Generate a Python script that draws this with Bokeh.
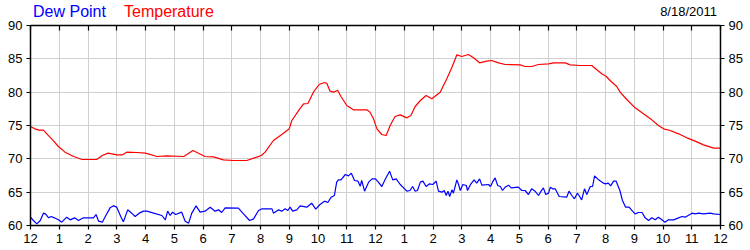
from bokeh.plotting import figure
from bokeh.models import LinearAxis, FixedTicker, Range1d, Div, GridBox
from bokeh.embed import file_html
from bokeh.resources import INLINE

# ---- data (hours since midnight, degrees F) ----
temp_hours = [0.0, 0.15, 0.3, 0.45, 0.6, 0.8, 0.97, 1.2, 1.5, 1.8, 2.3, 2.5, 2.7, 3.0, 3.2, 3.35, 3.7, 4.0,
              4.4, 4.74, 5.33, 5.65, 6.07, 6.37, 6.71, 7.06, 7.52, 7.87, 8.03, 8.16, 8.45, 8.74, 9.0, 9.09,
              9.34, 9.5, 9.65, 9.84, 10.04, 10.23, 10.31, 10.42, 10.54, 10.68, 10.8, 11.0, 11.23, 11.7,
              11.81, 11.93, 12.05, 12.22, 12.37, 12.51, 12.68, 12.86, 13.09, 13.23, 13.38, 13.56, 13.76,
              13.96, 14.25, 14.48, 14.66, 14.83, 15.0, 15.23, 15.41, 15.62, 15.87, 16.04, 16.28, 16.51,
              17.03, 17.2, 17.43, 17.67, 18.02, 18.19, 18.6, 18.77, 19.12, 19.52, 19.7, 19.87, 20.03,
              20.16, 20.39, 20.51, 20.74, 21.03, 21.32, 21.61, 21.84, 22.02, 22.25, 22.54, 22.83, 23.12,
              23.41, 23.76, 24.0]
temp_values = [74.85, 74.5, 74.3, 74.3, 73.6, 72.7, 71.85, 71.0, 70.35, 69.9, 69.9, 70.5, 70.85, 70.6, 70.6,
               71.0, 70.95, 70.85, 70.35, 70.45, 70.35, 71.25, 70.35, 70.3, 69.85, 69.75, 69.75, 70.25,
               70.5, 71.0, 72.75, 73.65, 74.5, 75.75, 77.35, 78.25, 78.3, 80.0, 81.15, 81.45, 81.3, 80.15,
               80.0, 80.3, 79.35, 78.0, 77.35, 77.35, 77.0, 76.0, 74.5, 73.65, 73.5, 75.0, 76.35, 76.6,
               76.15, 76.5, 77.85, 78.75, 79.5, 79.0, 80.0, 82.0, 83.75, 85.6, 85.35, 85.65, 85.15, 84.4,
               84.65, 84.75, 84.4, 84.15, 84.1, 83.85, 83.85, 84.15, 84.25, 84.4, 84.4, 84.1, 84.0, 84.0,
               83.35, 82.75, 82.35, 81.75, 80.85, 80.0, 78.9, 77.65, 76.75, 75.85, 75.0, 74.5, 74.25,
               73.75, 73.15, 72.65, 72.1, 71.6, 71.6]

dew_hours = [0.0, 0.1, 0.22, 0.34, 0.45, 0.53, 0.63, 0.72, 0.83, 0.97, 1.09, 1.26, 1.38, 1.53, 1.67, 1.84,
             2.19, 2.28, 2.37, 2.5, 2.62, 2.77, 2.89, 3.0, 3.15, 3.23, 3.38, 3.52, 3.64, 3.78, 3.93, 4.05,
             4.28, 4.57, 4.69, 4.77, 4.86, 4.94, 5.05, 5.26, 5.38, 5.5, 5.61, 5.76, 5.9, 6.07, 6.25, 6.42,
             6.54, 6.65, 6.77, 7.23, 7.41, 7.62, 7.76, 7.93, 8.05, 8.4, 8.45, 8.63, 8.74, 8.86, 8.95, 9.03,
             9.12, 9.26, 9.38, 9.61, 9.78, 9.92, 10.07, 10.23, 10.34, 10.46, 10.57, 10.65, 10.71, 10.8,
             10.95, 11.06, 11.16, 11.27, 11.39, 11.47, 11.52, 11.62, 11.76, 11.88, 12.0, 12.07, 12.22,
             12.33, 12.49, 12.6, 12.72, 12.86, 13.09, 13.2, 13.29, 13.38, 13.46, 13.56, 13.65, 13.76,
             13.88, 13.99, 14.11, 14.19, 14.31, 14.39, 14.46, 14.52, 14.58, 14.66, 14.71, 14.83, 14.89,
             14.95, 15.04, 15.16, 15.2, 15.32, 15.43, 15.52, 15.62, 15.7, 15.93, 16.0, 16.07, 16.16,
             16.25, 16.34, 16.42, 16.51, 16.63, 16.72, 16.97, 17.09, 17.2, 17.32, 17.43, 17.55, 17.67,
             17.76, 17.84, 17.92, 18.02, 18.08, 18.16, 18.25, 18.39, 18.65, 18.73, 18.83, 18.92, 19.02,
             19.08, 19.17, 19.27, 19.35, 19.47, 19.55, 19.62, 19.76, 19.93, 20.0, 20.1, 20.18, 20.28,
             20.37, 20.5, 20.59, 20.7, 20.82, 20.94, 21.03, 21.15, 21.27, 21.38, 21.5, 21.61, 21.73,
             21.84, 21.96, 22.07, 22.19, 22.37, 22.54, 22.66, 22.77, 22.89, 23.01, 23.12, 23.24, 23.41,
             23.64, 23.76, 24.0]
dew_values = [61.25, 60.75, 60.25, 60.75, 61.85, 61.7, 61.15, 61.35, 61.15, 60.85, 60.5, 61.25, 60.85,
              61.15, 60.75, 61.15, 61.15, 61.65, 60.65, 60.5, 61.5, 62.65, 62.95, 62.75, 61.25, 60.55,
              62.35, 61.85, 61.35, 61.85, 62.15, 62.15, 61.85, 61.5, 60.85, 62.15, 61.5, 62.0, 61.65,
              62.0, 60.65, 60.35, 61.85, 62.95, 62.0, 62.15, 62.75, 62.15, 62.35, 61.95, 62.65, 62.6,
              61.75, 60.75, 61.0, 62.25, 62.5, 62.5, 61.85, 62.35, 62.15, 62.5, 62.25, 62.75, 62.15,
              62.35, 62.95, 62.75, 63.35, 62.45, 63.15, 63.65, 63.45, 64.25, 64.5, 66.5, 66.85, 66.85,
              67.65, 67.45, 67.85, 66.75, 66.65, 65.9, 66.75, 65.15, 66.5, 67.0, 67.0, 66.65, 65.85,
              66.85, 68.15, 66.85, 67.0, 66.15, 65.15, 65.25, 65.85, 65.15, 65.25, 66.5, 66.65, 65.85,
              66.25, 66.15, 66.65, 65.15, 65.0, 65.25, 64.5, 65.15, 64.35, 65.35, 64.85, 66.85, 66.15,
              65.25, 66.15, 66.0, 65.25, 66.25, 66.85, 66.35, 67.0, 66.05, 66.15, 65.85, 66.5, 67.15,
              66.0, 65.85, 65.25, 65.75, 66.05, 65.65, 65.75, 65.25, 65.25, 64.65, 65.5, 65.15, 64.5,
              65.15, 65.65, 64.65, 64.85, 65.75, 65.5, 65.5, 64.35, 64.25, 65.15, 64.5, 64.0, 64.85,
              64.5, 63.85, 65.5, 64.65, 65.85, 65.85, 67.45, 66.85, 66.35, 66.25, 66.35, 65.95, 66.65,
              66.65, 65.25, 63.75, 62.75, 62.75, 62.15, 61.75, 61.95, 61.95, 61.15, 60.75, 61.15, 60.85,
              61.25, 60.85, 60.5, 60.85, 60.85, 61.15, 61.35, 61.25, 61.55, 61.85, 61.75, 61.85, 61.75,
              61.85, 61.75, 61.65]

hour_ticks = list(range(0, 25))
hour_labels = ["12", "1", "2", "3", "4", "5", "6", "7", "8", "9", "10", "11",
               "12", "1", "2", "3", "4", "5", "6", "7", "8", "9", "10", "11", "12"]
y_ticks = [60, 65, 70, 75, 80, 85, 90]
title_dew = "Dew Point"
title_temp = "Temperature"
date_text = "8/18/2011"

FONT = "Liberation Sans"

p = figure(width=750, height=250, output_backend="svg", toolbar_location=None,
           x_range=Range1d(0, 24), y_range=Range1d(60, 90),
           min_border_left=30, min_border_right=30, min_border_top=25, min_border_bottom=25,
           x_axis_location=None, y_axis_location=None, margin=0)
p.outline_line_color = None
p.background_fill_color = "white"
p.border_fill_color = "white"


def style_axis(ax):
    ax.axis_line_color = "black"
    ax.axis_line_width = 1.5
    ax.major_tick_line_color = "black"
    ax.major_tick_line_width = 1.2
    ax.minor_tick_line_color = None
    ax.major_label_text_font = FONT
    ax.major_label_text_font_size = "13px"
    ax.major_label_text_color = "black"
    ax.major_label_standoff = 4


xt = FixedTicker(ticks=hour_ticks)
yt = FixedTicker(ticks=y_ticks)
overrides = {i: s for i, s in zip(hour_ticks, hour_labels)}

bottom = LinearAxis(ticker=xt, major_label_overrides=overrides)
style_axis(bottom)
bottom.major_tick_in = 0
bottom.major_tick_out = 4
p.add_layout(bottom, "below")

# top frame line with inward ticks only (minor ticks -> no labels)
top = LinearAxis(ticker=FixedTicker(ticks=[], minor_ticks=hour_ticks))
top.axis_line_color = "black"
top.axis_line_width = 1.5
top.major_tick_line_color = None
top.minor_tick_line_color = "black"
top.minor_tick_line_width = 1.2
top.minor_tick_in = 5
top.minor_tick_out = 0
top.major_label_standoff = 0
p.add_layout(top, "above")

left = LinearAxis(ticker=yt)
style_axis(left)
left.major_tick_in = 0
left.major_tick_out = 4
p.add_layout(left, "left")

right = LinearAxis(ticker=yt)
style_axis(right)
right.major_tick_in = 0
right.major_tick_out = 4
p.add_layout(right, "right")

p.xgrid.ticker = xt
p.ygrid.ticker = yt
for g in (p.xgrid, p.ygrid):
    g.grid_line_color = "#d0d0d0"
    g.grid_line_width = 1

p.line(temp_hours, temp_values, line_color="#ff0000", line_width=1.2)
p.line(dew_hours, dew_values, line_color="#0000ff", line_width=1.2)

# header texts, overlaid on the figure's top border area
header_html = (
    '<div style="position:relative;width:750px;height:25px;margin:0;padding:0;'
    "font-family:'Liberation Sans',Arial,sans-serif;white-space:nowrap;pointer-events:none;\">"
    '<span style="position:absolute;left:33px;top:3px;font-size:16px;line-height:18px;'
    f'color:#0000ff;">{title_dew}</span>'
    '<span style="position:absolute;left:124px;top:3px;font-size:16px;line-height:18px;'
    f'color:#ff0000;">{title_temp}</span>'
    '<span style="position:absolute;right:33px;top:4px;font-size:13px;line-height:15px;'
    f'color:#000000;">{date_text}</span>'
    '</div>'
)
header = Div(text=header_html, width=750, height=25, margin=0, align="start")

layout = GridBox(children=[(p, 0, 0), (header, 0, 0)], spacing=0, margin=0)

open("out.html", "w").write(file_html(layout, INLINE))
